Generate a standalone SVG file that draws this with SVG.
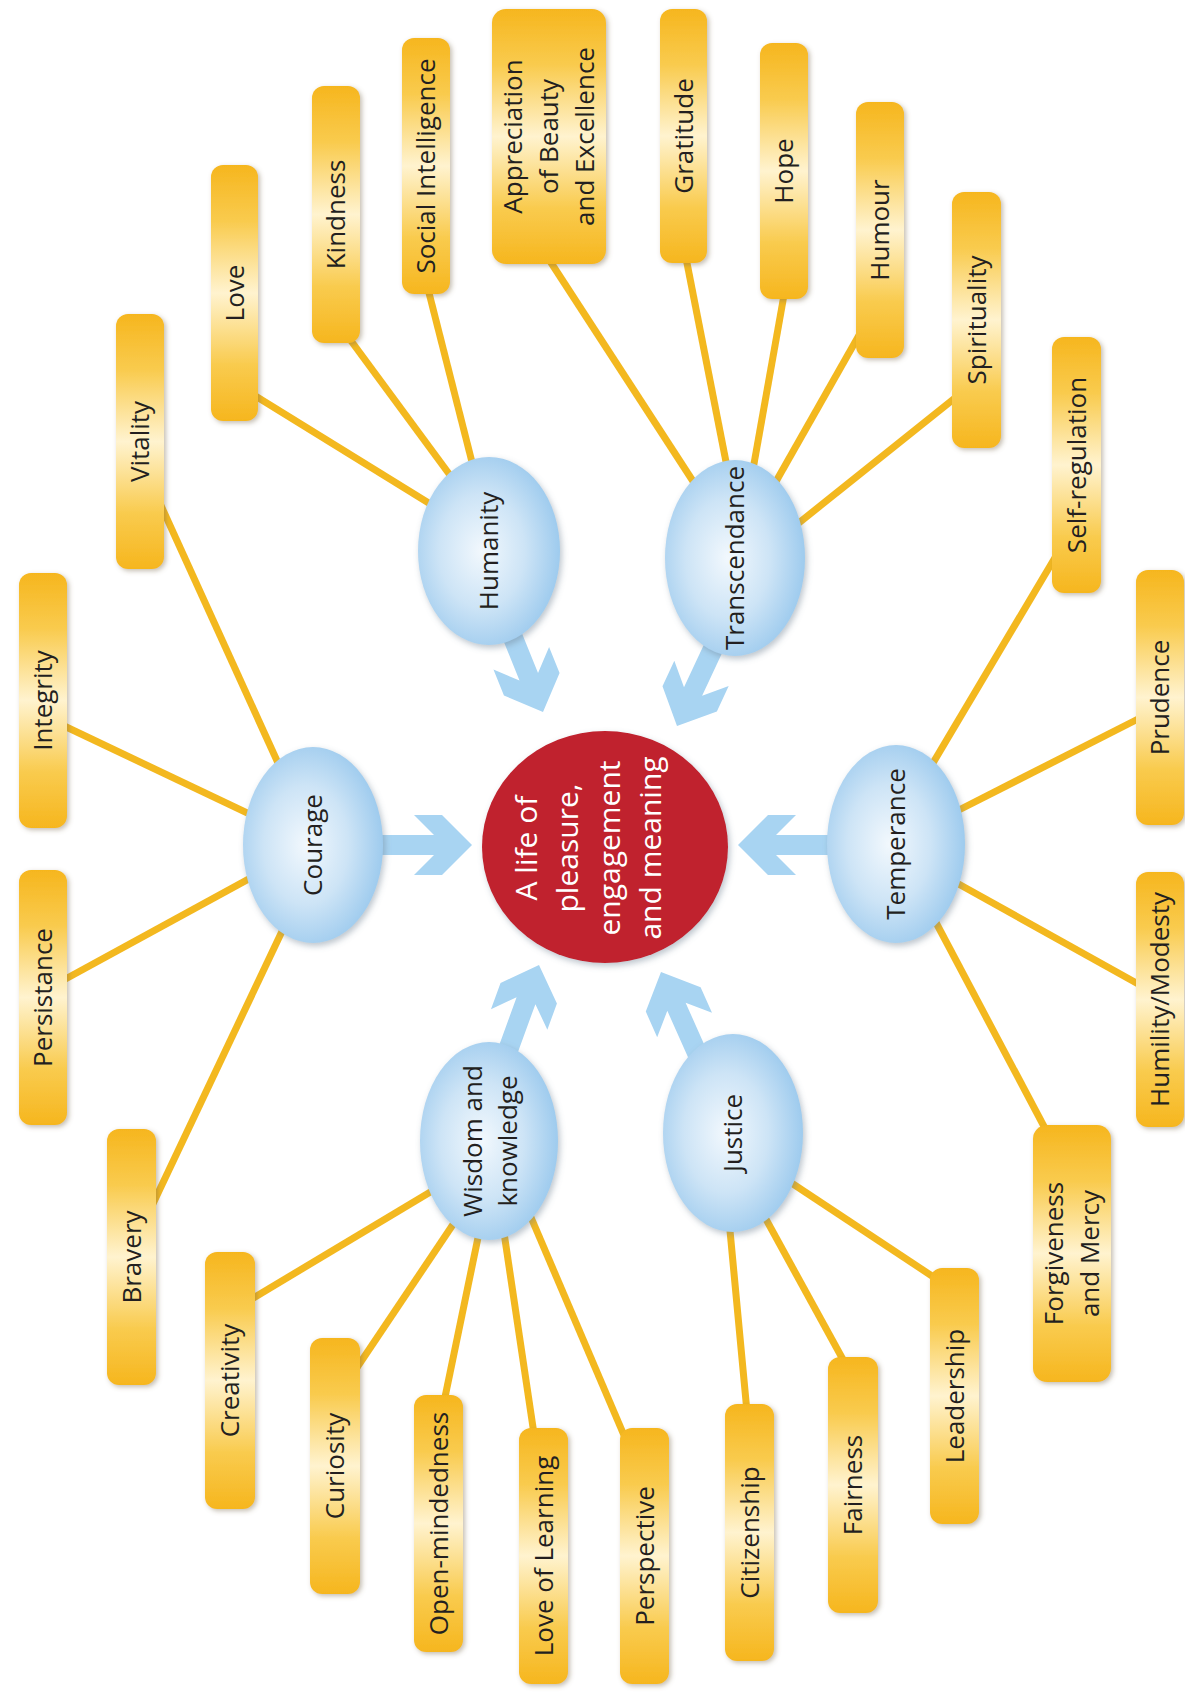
<svg xmlns="http://www.w3.org/2000/svg" width="1185" height="1694" viewBox="0 0 1185 1694">
<defs>
  <linearGradient id="pillGrad" x1="0" y1="0" x2="0" y2="1">
    <stop offset="0" stop-color="#F6B61E"/>
    <stop offset="0.22" stop-color="#F9CB4E"/>
    <stop offset="0.5" stop-color="#FFF3CF"/>
    <stop offset="0.78" stop-color="#F9CB4E"/>
    <stop offset="1" stop-color="#F6B61E"/>
  </linearGradient>
  <radialGradient id="blueGrad" cx="0.45" cy="0.5" r="0.55">
    <stop offset="0" stop-color="#F2F8FD"/>
    <stop offset="0.55" stop-color="#CDE4F6"/>
    <stop offset="1" stop-color="#9ECBEE"/>
  </radialGradient>
  <filter id="shadow" x="-30%" y="-10%" width="160%" height="120%">
    <feDropShadow dx="2" dy="2" stdDeviation="2.5" flood-color="#7a6a50" flood-opacity="0.45"/>
  </filter>
  <filter id="softShadow" x="-20%" y="-20%" width="140%" height="140%">
    <feDropShadow dx="2" dy="3" stdDeviation="3" flood-color="#6c7f90" flood-opacity="0.45"/>
  </filter>
  <path id="arrow" d="M0,0 L-30,-30 L-58,-30 L-38,-10 L-130,-10 L-130,10 L-38,10 L-58,30 L-30,30 Z"/>
  <style>
    .pill { fill: url(#pillGrad); filter: url(#shadow); }
    .oval { fill: url(#blueGrad); filter: url(#softShadow); }
    .lbl { font-family: "Open Sans", "Liberation Sans", sans-serif; font-size: 26px; fill: #231F20; text-anchor: middle; }
    .ctr { font-family: "Open Sans", "Liberation Sans", sans-serif; font-size: 30px; fill: #FFFFFF; text-anchor: middle; }
    .con { stroke: #F3B81F; stroke-width: 7; stroke-linecap: butt; fill: none; }
    .arr { fill: #A8D4F2; }
  </style>
</defs>
<rect width="1185" height="1694" fill="#FFFFFF"/>

<g id="connectors">
  <line class="con" x1="158" y1="499" x2="283" y2="774"/>
  <line class="con" x1="60" y1="724" x2="260" y2="819"/>
  <line class="con" x1="60" y1="982" x2="258" y2="874"/>
  <line class="con" x1="150" y1="1210" x2="285" y2="925"/>
  <line class="con" x1="252" y1="394" x2="440" y2="510"/>
  <line class="con" x1="346" y1="334" x2="458" y2="486"/>
  <line class="con" x1="427" y1="285" x2="474" y2="470"/>
  <line class="con" x1="548" y1="258" x2="700" y2="492"/>
  <line class="con" x1="686" y1="258" x2="728" y2="472"/>
  <line class="con" x1="784" y1="295" x2="752" y2="475"/>
  <line class="con" x1="862" y1="330" x2="770" y2="492"/>
  <line class="con" x1="960" y1="394" x2="790" y2="530"/>
  <line class="con" x1="1056" y1="556" x2="930" y2="768"/>
  <line class="con" x1="1140" y1="718" x2="955" y2="812"/>
  <line class="con" x1="1140" y1="985" x2="955" y2="882"/>
  <line class="con" x1="1048" y1="1134" x2="932" y2="915"/>
  <line class="con" x1="935" y1="1278" x2="787" y2="1180"/>
  <line class="con" x1="846" y1="1365" x2="762" y2="1212"/>
  <line class="con" x1="747" y1="1412" x2="729" y2="1220"/>
  <line class="con" x1="250" y1="1300" x2="437" y2="1188"/>
  <line class="con" x1="354" y1="1372" x2="456" y2="1220"/>
  <line class="con" x1="444" y1="1402" x2="480" y2="1228"/>
  <line class="con" x1="534" y1="1434" x2="503" y2="1226"/>
  <line class="con" x1="626" y1="1440" x2="527" y2="1208"/>
</g>

<g id="arrows">
  <use class="arr" href="#arrow" transform="translate(472,845) rotate(0)"/>
  <use class="arr" href="#arrow" transform="translate(738,845) rotate(180)"/>
  <use class="arr" href="#arrow" transform="translate(543,712) rotate(68)"/>
  <use class="arr" href="#arrow" transform="translate(677,726) rotate(115)"/>
  <use class="arr" href="#arrow" transform="translate(539,965) rotate(-70)"/>
  <use class="arr" href="#arrow" transform="translate(661,972) rotate(-114)"/>
</g>

<!-- Courage strengths -->
<g id="vitality"><rect class="pill" x="116" y="314" width="48" height="255" rx="12"/><text class="lbl" transform="translate(140,441.5) rotate(-90)" y="9">Vitality</text></g>
<g id="integrity"><rect class="pill" x="19" y="573" width="48" height="255" rx="12"/><text class="lbl" transform="translate(43,700.5) rotate(-90)" y="9">Integrity</text></g>
<g id="persistance"><rect class="pill" x="19" y="870" width="48" height="255" rx="12"/><text class="lbl" transform="translate(43,997.5) rotate(-90)" y="9">Persistance</text></g>
<g id="bravery"><rect class="pill" x="107" y="1129" width="49" height="256" rx="12"/><text class="lbl" transform="translate(131.5,1257) rotate(-90)" y="9">Bravery</text></g>

<!-- Humanity strengths -->
<g id="love"><rect class="pill" x="211" y="165" width="47" height="256" rx="12"/><text class="lbl" transform="translate(234.5,293) rotate(-90)" y="9">Love</text></g>
<g id="kindness"><rect class="pill" x="312" y="86" width="48" height="257" rx="12"/><text class="lbl" transform="translate(336,214.5) rotate(-90)" y="9">Kindness</text></g>
<g id="social-intelligence"><rect class="pill" x="402" y="38" width="48" height="256" rx="12"/><text class="lbl" transform="translate(426,166) rotate(-90)" y="9">Social Intelligence</text></g>

<!-- Transcendance strengths -->
<g id="appreciation"><rect class="pill" x="492" y="9" width="114" height="255" rx="14"/><text class="lbl" transform="translate(549,136.5) rotate(-90)"><tspan x="0" y="-27">Appreciation</tspan><tspan x="0" y="9">of Beauty</tspan><tspan x="0" y="45">and Excellence</tspan></text></g>
<g id="gratitude"><rect class="pill" x="660" y="9" width="47" height="254" rx="12"/><text class="lbl" transform="translate(683.5,136) rotate(-90)" y="9">Gratitude</text></g>
<g id="hope"><rect class="pill" x="760" y="43" width="48" height="256" rx="12"/><text class="lbl" transform="translate(784,171) rotate(-90)" y="9">Hope</text></g>
<g id="humour"><rect class="pill" x="856" y="102" width="48" height="256" rx="12"/><text class="lbl" transform="translate(880,230) rotate(-90)" y="9">Humour</text></g>
<g id="spirituality"><rect class="pill" x="952" y="192" width="49" height="256" rx="12"/><text class="lbl" transform="translate(976.5,320) rotate(-90)" y="9">Spirituality</text></g>

<!-- Temperance strengths -->
<g id="self-regulation"><rect class="pill" x="1052" y="337" width="49" height="256" rx="12"/><text class="lbl" transform="translate(1076.5,465) rotate(-90)" y="9">Self-regulation</text></g>
<g id="prudence"><rect class="pill" x="1136" y="570" width="48" height="255" rx="12"/><text class="lbl" transform="translate(1160,697.5) rotate(-90)" y="9">Prudence</text></g>
<g id="humility"><rect class="pill" x="1136" y="872" width="48" height="255" rx="12"/><text class="lbl" transform="translate(1160,999.5) rotate(-90)" y="9">Humility/Modesty</text></g>
<g id="forgiveness"><rect class="pill" x="1033" y="1125" width="78" height="257" rx="14"/><text class="lbl" transform="translate(1072,1253.5) rotate(-90)"><tspan x="0" y="-9">Forgiveness</tspan><tspan x="0" y="27">and Mercy</tspan></text></g>

<!-- Justice strengths -->
<g id="leadership"><rect class="pill" x="930" y="1268" width="49" height="256" rx="12"/><text class="lbl" transform="translate(954.5,1396) rotate(-90)" y="9">Leadership</text></g>
<g id="fairness"><rect class="pill" x="828" y="1357" width="50" height="256" rx="12"/><text class="lbl" transform="translate(853,1485) rotate(-90)" y="9">Fairness</text></g>
<g id="citizenship"><rect class="pill" x="725" y="1404" width="49" height="257" rx="12"/><text class="lbl" transform="translate(749.5,1532.5) rotate(-90)" y="9">Citizenship</text></g>

<!-- Wisdom strengths -->
<g id="perspective"><rect class="pill" x="620" y="1428" width="49" height="256" rx="12"/><text class="lbl" transform="translate(644.5,1556) rotate(-90)" y="9">Perspective</text></g>
<g id="love-of-learning"><rect class="pill" x="519" y="1428" width="49" height="256" rx="12"/><text class="lbl" transform="translate(543.5,1556) rotate(-90)" y="9">Love of Learning</text></g>
<g id="open-mindedness"><rect class="pill" x="414" y="1395" width="49" height="257" rx="12"/><text class="lbl" transform="translate(438.5,1523.5) rotate(-90)" y="9">Open-mindedness</text></g>
<g id="curiosity"><rect class="pill" x="310" y="1338" width="50" height="256" rx="12"/><text class="lbl" transform="translate(335,1466) rotate(-90)" y="9">Curiosity</text></g>
<g id="creativity"><rect class="pill" x="205" y="1252" width="50" height="257" rx="12"/><text class="lbl" transform="translate(230,1380.5) rotate(-90)" y="9">Creativity</text></g>

<!-- Virtues -->
<g id="humanity"><ellipse class="oval" cx="489" cy="551" rx="71" ry="94"/><text class="lbl" transform="translate(489,551) rotate(-90)" y="9">Humanity</text></g>
<g id="transcendance"><ellipse class="oval" cx="735" cy="558" rx="70" ry="98"/><text class="lbl" transform="translate(735,558) rotate(-90)" y="9">Transcendance</text></g>
<g id="courage"><ellipse class="oval" cx="313" cy="845" rx="70" ry="98"/><text class="lbl" transform="translate(313,845) rotate(-90)" y="9">Courage</text></g>
<g id="temperance"><ellipse class="oval" cx="896" cy="844" rx="69" ry="99"/><text class="lbl" transform="translate(896,844) rotate(-90)" y="9">Temperance</text></g>
<g id="wisdom"><ellipse class="oval" cx="489" cy="1141" rx="69" ry="99"/><text class="lbl" transform="translate(489,1141) rotate(-90)"><tspan x="0" y="-7">Wisdom and</tspan><tspan x="0" y="28">knowledge</tspan></text></g>
<g id="justice"><ellipse class="oval" cx="733" cy="1133" rx="70" ry="99"/><text class="lbl" transform="translate(733,1133) rotate(-90)" y="9">Justice</text></g>

<!-- Centre -->
<g id="good-life"><ellipse cx="605" cy="847" rx="123" ry="116" fill="#C0202D" filter="url(#softShadow)"/><text class="ctr" transform="translate(594,848) rotate(-90)"><tspan x="0" y="-57">A life of</tspan><tspan x="0" y="-16">pleasure,</tspan><tspan x="0" y="26">engagement</tspan><tspan x="0" y="67">and meaning</tspan></text></g>
</svg>
